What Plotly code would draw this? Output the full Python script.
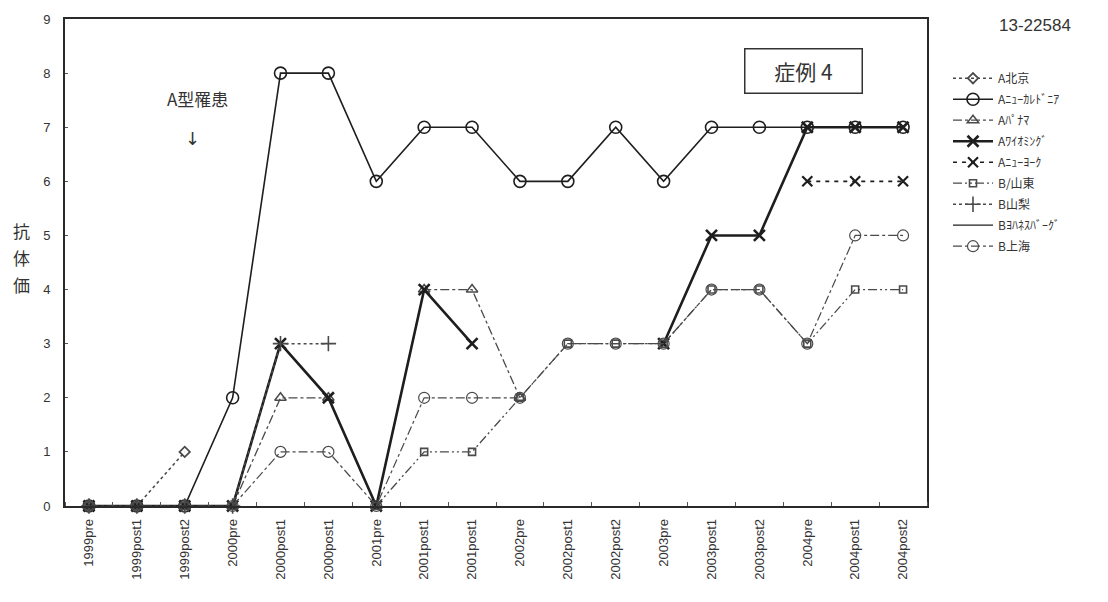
import plotly.graph_objects as go

# Sampling points (duplicate labels are real: two post1 draws in 2000 and 2001)
timepoints = ["1999pre", "1999post1", "1999post2", "2000pre", "2000post1", "2000post1",
              "2001pre", "2001post1", "2001post1", "2002pre", "2002post1", "2002post2",
              "2003pre", "2003post1", "2003post2", "2004pre", "2004post1", "2004post2"]

N = None
a_beijing = [0, 0, 1, N, N, N, N, N, N, N, N, N, N, N, N, N, N, N]
a_newcaledonia = [0, 0, 0, 2, 8, 8, 6, 7, 7, 6, 6, 7, 6, 7, 7, 7, 7, 7]
a_panama = [0, 0, 0, 0, 2, 2, 0, 4, 4, 2, N, N, N, N, N, N, N, N]
a_wyoming = [0, 0, 0, 0, 3, 2, 0, 4, 3, N, N, N, 3, 5, 5, 7, 7, 7]
a_newyork = [N, N, N, N, N, N, N, N, N, N, N, N, N, N, N, 6, 6, 6]
b_shandong = [0, 0, 0, 0, N, N, 0, 1, 1, 2, 3, 3, 3, 4, 4, 3, 4, 4]
b_yamanashi = [0, 0, 0, 0, 3, 3, N, N, N, N, N, N, N, N, N, N, N, N]
b_johannesburg = [0, 0, 0, 0, N, N, N, N, N, N, N, N, N, N, N, N, N, N]
b_shanghai = [0, 0, 0, 0, 1, 1, 0, 2, 2, 2, 3, 3, 3, 4, 4, 3, 5, 5]

series_names = ["A北京", "Aﾆｭｰｶﾚﾄﾞﾆｱ", "Aﾊﾟﾅﾏ", "Aﾜｲｵﾐﾝｸﾞ", "Aﾆｭｰﾖｰｸ",
                "B/山東", "B山梨", "Bﾖﾊﾈｽﾊﾞｰｸﾞ", "B上海"]
series_values = [a_beijing, a_newcaledonia, a_panama, a_wyoming, a_newyork,
                 b_shandong, b_yamanashi, b_johannesburg, b_shanghai]

DARK = "#1e1e1e"
GREY = "#4a4a4a"
styles = [
    dict(color=GREY, width=1.6, dash="dot", symbol="diamond-open", size=8, mlw=1.8),
    dict(color=DARK, width=1.6, dash="solid", symbol="circle-open", size=12, mlw=1.6),
    dict(color=GREY, width=1.3, dash="dashdot", symbol="triangle-up-open", size=10, mlw=1.5),
    dict(color=DARK, width=2.6, dash="solid", symbol="x-thin-open", size=11, mlw=2.6),
    dict(color=DARK, width=1.6, dash="4px,5px", symbol="x-thin-open", size=10, mlw=2.2),
    dict(color=GREY, width=1.3, dash="9px,3px,2px,3px,2px,3px", symbol="square-open", size=7, mlw=1.6),
    dict(color=GREY, width=1.5, dash="dot", symbol="cross-thin-open", size=11, mlw=1.6),
    dict(color=DARK, width=1.3, dash="solid", symbol="circle", size=1, mlw=0),
    dict(color=GREY, width=1.2, dash="dashdot", symbol="circle-open", size=11, mlw=1.2),
]

x_pos = list(range(len(timepoints)))

fig = go.Figure()
for i, (name, vals, st) in enumerate(zip(series_names, series_values, styles)):
    show_marker = st["size"] > 1
    fig.add_trace(go.Scatter(
        x=x_pos, y=vals, name=name,
        mode="lines+markers" if show_marker else "lines",
        line=dict(color=st["color"], width=st["width"], dash=st["dash"]),
        marker=dict(symbol=st["symbol"], size=st["size"], color=st["color"],
                    line=dict(color=st["color"], width=st["mlw"])),
        cliponaxis=False, legendgroup=f"g{i}",
    ))

L, R, T, B = 65, 181, 16, 96
W, H = 1108, 602
pw, ph = W - L - R, H - T - B


def px(xp):
    return (xp - L) / pw


def py(yp):
    return (H - B - yp) / ph


fig.update_layout(
    width=W, height=H,
    margin=dict(l=L, r=R, t=T, b=B),
    paper_bgcolor="white", plot_bgcolor="white",
    font=dict(family="Liberation Sans, Noto Sans CJK JP, sans-serif", color="#333"),
    showlegend=True,
    legend=dict(x=px(948), y=py(61), xanchor="left", yanchor="top",
                font=dict(size=12, family="Noto Sans CJK JP", color="#333"),
                tracegroupgap=2, itemwidth=40, bgcolor="rgba(0,0,0,0)"),
    xaxis=dict(range=[-0.5, 17.5], tickmode="array", tickvals=x_pos, ticktext=timepoints,
               tickangle=-90, ticks="", showgrid=False, zeroline=False,
               showline=True, linecolor="#2a2a2a", linewidth=1.6, mirror=True,
               tickfont=dict(size=13, color="#333"), ticklabelstandoff=6,
               minor=dict(tick0=0.5, dtick=1, ticks="inside", ticklen=4, tickcolor="#555")),
    yaxis=dict(range=[0, 9], dtick=1, showgrid=False, zeroline=False,
               showline=True, linecolor="#2a2a2a", linewidth=1.6, mirror=True,
               ticks="inside", ticklen=3, tickcolor="#555",
               tickfont=dict(size=13, color="#333"), ticklabelstandoff=10),
)

annotations = [
    dict(x=px(803), y=py(68), text="症例 4", showarrow=False,
         font=dict(size=21, family="Noto Sans CJK JP", color="#333"),
         bordercolor="#333", borderwidth=1.5, width=114, height=41, bgcolor="white"),
    dict(x=px(1035), y=py(23), text="13-22584", showarrow=False,
         font=dict(size=17, family="Liberation Sans", color="#333")),
    dict(x=px(197), y=py(96), text="A型罹患", showarrow=False,
         font=dict(size=17, family="Noto Sans CJK JP", color="#333")),
    dict(x=px(192), y=py(136), text="↓", showarrow=False,
         font=dict(size=18, family="DejaVu Sans", color="#333")),
]
for k, ch in enumerate("抗体価"):
    annotations.append(dict(x=px(21), y=py(229 + 27 * k), text=ch, showarrow=False,
                            font=dict(size=17, family="Noto Sans CJK JP", color="#333")))
for a in annotations:
    a.update(xref="paper", yref="paper", xanchor="center", yanchor="middle")
fig.update_layout(annotations=annotations)

fig.write_html("out.html")
